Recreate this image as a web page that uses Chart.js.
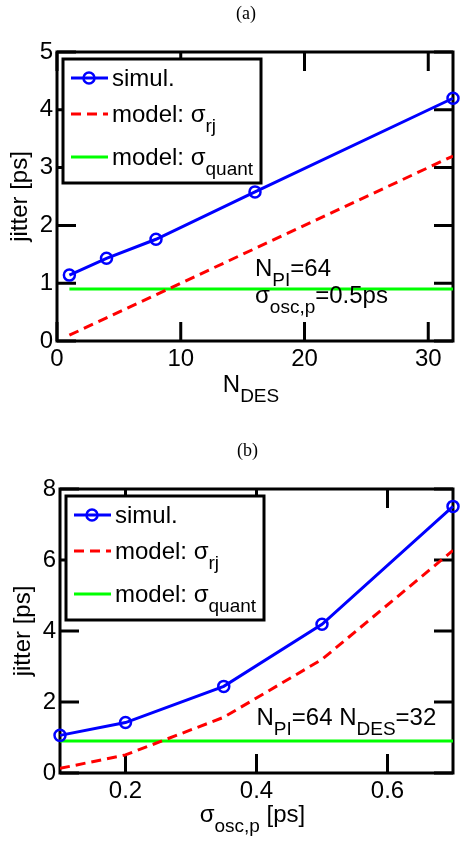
<!DOCTYPE html>
<html>
<head>
<meta charset="utf-8">
<script src="https://cdn.jsdelivr.net/npm/chart.js@4"></script>
<style>
  body { margin: 0; background: #fff; }
  #wrap { position: relative; width: 461px; height: 844px; }
  canvas { position: absolute; left: 0; }
  #chartA { top: 0; }
  #chartB { top: 400px; }
</style>
</head>
<body>
<div id="wrap">
  <canvas id="chartA" width="461" height="412"></canvas>
  <canvas id="chartB" width="461" height="444"></canvas>
</div>
<script>
// Panel (a): jitter vs N_DES
const nDes = [1, 4, 8, 16, 32];
const simulA = [1.14, 1.43, 1.76, 2.58, 4.2];
const rjA = [0.1, 0.4, 0.8, 1.6, 3.2];
const quantA = [0.9, 0.9, 0.9, 0.9, 0.9];
const xTicksA = [0, 10, 20, 30];
const yTicksA = [0, 1, 2, 3, 4, 5];

// Panel (b): jitter vs sigma_osc,p
const sigmaOsc = [0.1, 0.2, 0.35, 0.5, 0.7];
const simulB = [1.06, 1.42, 2.44, 4.19, 7.51];
const rjB = [0.13, 0.51, 1.57, 3.2, 6.27];
const quantB = [0.9, 0.9, 0.9, 0.9, 0.9];
const xTicksB = [0.2, 0.4, 0.6];
const yTicksB = [0, 2, 4, 6, 8];

const SANS = "'Liberation Sans', Arial, sans-serif";
const MAIN = "24px " + SANS;
const SUB = "19px " + SANS;
const SUB_DROP = 10;

const legendLabels = [
  [{ t: "simul." }],
  [{ t: "model: σ" }, { t: "rj", sub: true }],
  [{ t: "model: σ" }, { t: "quant", sub: true }]
];

function pts(xs, ys) {
  return xs.map((x, i) => ({ x, y: ys[i] }));
}

// text with subscripts, left aligned at (x, y) baseline
function richWidth(ctx, parts) {
  let w = 0;
  parts.forEach(p => { ctx.font = p.sub ? SUB : MAIN; w += ctx.measureText(p.t).width; });
  return w;
}
function drawRich(ctx, parts, x, y) {
  ctx.textAlign = "left";
  ctx.textBaseline = "alphabetic";
  parts.forEach(p => {
    ctx.font = p.sub ? SUB : MAIN;
    ctx.fillText(p.t, x, y + (p.sub ? SUB_DROP : 0));
    x += ctx.measureText(p.t).width;
  });
}

function makeDatasets(xs, simul, rj, quant) {
  return [
    {
      data: pts(xs, simul), borderColor: "#0000ff", borderWidth: 3,
      pointRadius: 5.5, pointBorderWidth: 2.5, pointBorderColor: "#0000ff",
      pointBackgroundColor: "rgba(0,0,0,0)", clip: false
    },
    { data: pts(xs, rj), borderColor: "#ff0000", borderWidth: 3, borderDash: [10, 6], pointRadius: 0 },
    { data: pts(xs, quant), borderColor: "#00ff00", borderWidth: 3, pointRadius: 0 }
  ];
}

// box, inward ticks, legend, labels
function makeExtras(cfg) {
  return {
    id: "figureExtras",
    beforeDatasetsDraw(chart) {
      const { ctx, chartArea: a, scales: { x, y } } = chart;
      const len = 19;
      ctx.save();
      ctx.strokeStyle = "#000";
      ctx.lineWidth = 3;
      ctx.beginPath();
      x.ticks.forEach(t => {
        const px = x.getPixelForValue(t.value);
        ctx.moveTo(px, a.bottom); ctx.lineTo(px, a.bottom - len);
        ctx.moveTo(px, a.top); ctx.lineTo(px, a.top + len);
      });
      y.ticks.forEach(t => {
        const py = y.getPixelForValue(t.value);
        ctx.moveTo(a.left, py); ctx.lineTo(a.left + len, py);
        ctx.moveTo(a.right, py); ctx.lineTo(a.right - len, py);
      });
      ctx.stroke();
      ctx.strokeRect(a.left, a.top, a.right - a.left, a.bottom - a.top);
      ctx.restore();
    },
    afterDraw(chart) {
      const { ctx, chartArea: a, scales: { x, y } } = chart;
      const ds = chart.data.datasets;
      ctx.save();
      ctx.fillStyle = "#000";

      // panel title
      ctx.font = "18px 'Liberation Serif', 'Times New Roman', serif";
      ctx.textAlign = "center";
      ctx.textBaseline = "alphabetic";
      ctx.fillText(cfg.title, (a.left + a.right) / 2 - 9, cfg.titleY);

      // y axis title
      ctx.save();
      ctx.translate(a.left - 30, (a.top + a.bottom) / 2);
      ctx.rotate(-Math.PI / 2);
      ctx.font = MAIN;
      ctx.textAlign = "center";
      ctx.fillText("jitter [ps]", 0, 0);
      ctx.restore();

      // x axis title
      const xw = richWidth(ctx, cfg.xTitle);
      drawRich(ctx, cfg.xTitle, (a.left + a.right) / 2 - xw / 2 - 4, a.bottom + cfg.xTitleDrop);

      // annotation
      const ax = x.getPixelForValue(cfg.note.x);
      const ay = y.getPixelForValue(cfg.note.y);
      cfg.note.lines.forEach((ln, i) => drawRich(ctx, ln, ax, ay + i * 27));

      // legend
      const lx = a.left + 6, ly = a.top + 7;
      ctx.fillStyle = "#fff";
      ctx.fillRect(lx, ly, 198, 124);
      ctx.strokeStyle = "#000";
      ctx.lineWidth = 3;
      ctx.strokeRect(lx, ly, 198, 124);
      const rows = [19, 55, 98];
      rows.forEach((dy, i) => {
        const d = ds[i];
        const yy = ly + dy;
        ctx.strokeStyle = d.borderColor;
        ctx.lineWidth = d.borderWidth;
        ctx.setLineDash(d.borderDash || []);
        ctx.beginPath();
        ctx.moveTo(lx + 8, yy); ctx.lineTo(lx + 45, yy);
        ctx.stroke();
        ctx.setLineDash([]);
        if (d.pointRadius) {
          ctx.lineWidth = d.pointBorderWidth;
          ctx.beginPath();
          ctx.arc(lx + 26, yy, d.pointRadius, 0, Math.PI * 2);
          ctx.stroke();
        }
        ctx.fillStyle = "#000";
        drawRich(ctx, legendLabels[i], lx + 49, yy + 8);
      });
      ctx.restore();
    }
  };
}

function makeChart(id, xs, simul, rj, quant, sc) {
  return new Chart(document.getElementById(id), {
    type: "line",
    data: { datasets: makeDatasets(xs, simul, rj, quant) },
    options: {
      responsive: false,
      devicePixelRatio: 1,
      animation: false,
      layout: { padding: { top: sc.padTop, right: sc.padRight, left: 0, bottom: 0 } },
      plugins: { legend: { display: false }, tooltip: { enabled: false } },
      scales: {
        x: {
          type: "linear", min: sc.xMin, max: sc.xMax,
          grid: { display: false, drawTicks: false },
          border: { display: false },
          afterBuildTicks: s => { s.ticks = sc.xTicks.map(v => ({ value: v })); },
          afterFit: s => { s.height = sc.xHeight; },
          ticks: { color: "#000", font: { family: SANS, size: 24 }, padding: 4, maxRotation: 0 }
        },
        y: {
          type: "linear", min: sc.yMin, max: sc.yMax,
          grid: { display: false, drawTicks: false },
          border: { display: false },
          afterBuildTicks: s => { s.ticks = sc.yTicks.map(v => ({ value: v })); },
          afterFit: s => { s.width = sc.yWidth; },
          ticks: { color: "#000", font: { family: SANS, size: 24 }, padding: 4 }
        }
      }
    },
    plugins: [makeExtras(sc.extras)]
  });
}

makeChart("chartA", nDes, simulA, rjA, quantA, {
  padTop: 52, padRight: 3, xHeight: 71, yWidth: 57,
  xMin: 0, xMax: 32, yMin: 0, yMax: 5, xTicks: xTicksA, yTicks: yTicksA,
  extras: {
    title: "(a)", titleY: 19, xTitleDrop: 51,
    xTitle: [{ t: "N" }, { t: "DES", sub: true }],
    note: {
      x: 16, y: 1.12,
      lines: [
        [{ t: "N" }, { t: "PI", sub: true }, { t: "=64" }],
        [{ t: "σ" }, { t: "osc,p", sub: true }, { t: "=0.5ps" }]
      ]
    }
  }
});

makeChart("chartB", sigmaOsc, simulB, rjB, quantB, {
  padTop: 89, padRight: 4, xHeight: 71, yWidth: 60,
  xMin: 0.1, xMax: 0.7, yMin: 0, yMax: 8, xTicks: xTicksB, yTicks: yTicksB,
  extras: {
    title: "(b)", titleY: 56, xTitleDrop: 49,
    xTitle: [{ t: "σ" }, { t: "osc,p", sub: true }, { t: " [ps]" }],
    note: {
      x: 0.4, y: 1.35,
      lines: [
        [{ t: "N" }, { t: "PI", sub: true }, { t: "=64 N" }, { t: "DES", sub: true }, { t: "=32" }]
      ]
    }
  }
});
</script>
</body>
</html>
